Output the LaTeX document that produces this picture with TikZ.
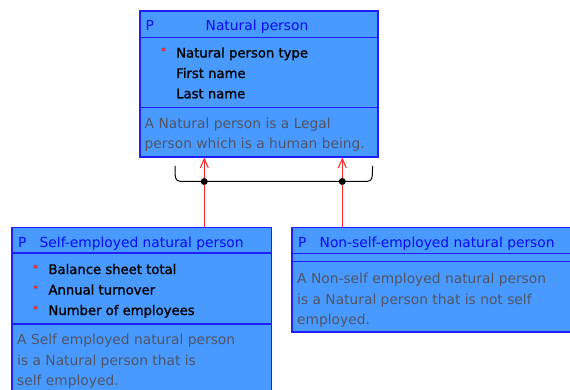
\documentclass[tikz,border=0pt]{standalone}
\usepackage{fontspec}
\setmainfont{DejaVu Sans}
\newfontface\attrface{DejaVu Sans}[FakeBold=1.2]
\newfontface\markface{DejaVu Sans}[FakeBold=2]
\usetikzlibrary{arrows.meta}
\definecolor{entfill}{RGB}{72,154,255}
\definecolor{entline}{RGB}{30,30,255}
\definecolor{titleblue}{RGB}{10,10,240}
\definecolor{notegray}{RGB}{80,85,100}
\definecolor{inhred}{RGB}{255,40,40}
\tikzset{
  entity/.style={draw=entline, fill=entfill, line width=1.6pt, rectangle, inner sep=0pt, anchor=north west},
  sep/.style={draw=entline, line width=1.6pt},
  ptag/.style={anchor=base west, inner sep=0pt, text=titleblue, font=\fontsize{13.8}{16}\selectfont},
  title/.style={anchor=base west, inner sep=0pt, text=titleblue, font=\fontsize{13.8}{16}\selectfont},
  attr/.style={anchor=base west, inner sep=0pt, text=black, font=\attrface\fontsize{13.2}{16}\selectfont},
  mand/.style={anchor=base west, inner sep=0pt, text=inhred, font=\markface\fontsize{9.5}{10}\selectfont},
  note/.style={anchor=base west, inner sep=0pt, text=notegray, font=\fontsize{13.8}{16}\selectfont},
  inherit/.style={draw=inhred, line width=1pt, -{Straight Barb[length=9pt,width=8pt,line width=1pt]}},
  brace/.style={draw=black, line width=1pt},
  joint/.style={circle, fill=black, inner sep=0pt, minimum size=7pt},
}
\begin{document}
\begin{tikzpicture}[x=1pt, y=-1pt]
\useasboundingbox (0,0) rectangle (570,390);
\clip (0,0) rectangle (570,390);

% Natural person
\node[entity, minimum width=238pt, minimum height=145.5pt] (np) at (139,10.5) {};
\draw[sep] (139,37.5) -- (377,37.5);
\draw[sep] (139,107.5) -- (377,107.5);
\node[ptag] (npP) at (145.5,30.5) {P};
\node[title, anchor=base] (npT) at (257,30.5) {Natural person};
\node[mand] (npM1) at (161,54.5) {*};
\node[attr] (npA1) at (176,57.5) {Natural person type};
\node[attr] (npA2) at (176,78) {First name};
\node[attr] (npA3) at (176,98.3) {Last name};
\node[note] (npN1) at (144.5,128.3) {A Natural person is a Legal};
\node[note] (npN2) at (144.5,149) {person which is a human being.};

% Self-employed natural person
\node[entity, minimum width=259.7pt, minimum height=180pt] (se) at (11,226.7) {};
\draw[sep] (11,253) -- (270.7,253);
\draw[sep] (11,324) -- (270.7,324);
\node[ptag] (seP) at (18,247.3) {P};
\node[title] (seT) at (39.5,247.3) {Self-employed natural person};
\node[mand] (seM1) at (33,271.5) {*};
\node[mand] (seM2) at (33,292) {*};
\node[mand] (seM3) at (33,312.5) {*};
\node[attr] (seA1) at (48.3,274) {Balance sheet total};
\node[attr] (seA2) at (48.3,294.5) {Annual turnover};
\node[attr] (seA3) at (48.3,315) {Number of employees};
\node[note] (seN1) at (17,344.3) {A Self employed natural person};
\node[note] (seN2) at (17,365) {is a Natural person that is};
\node[note] (seN3) at (17,385.7) {self employed.};

% Non-self-employed natural person
\node[entity, minimum width=278.5pt, minimum height=104.3pt] (ns) at (291,226.7) {};
\draw[sep] (291,253.3) -- (569.5,253.3);
\draw[sep] (291,261.3) -- (569.5,261.3);
\node[ptag] (nsP) at (298,247.3) {P};
\node[title] (nsT) at (319.5,247.3) {Non-self-employed natural person};
\node[note] (nsN1) at (297,283.3) {A Non-self employed natural person};
\node[note] (nsN2) at (297,304) {is a Natural person that is not self};
\node[note] (nsN3) at (297,324.5) {employed.};

% Inheritance joints and bracket
\coordinate (jl) at (204.3,181.5);
\coordinate (jr) at (342.3,181.5);
\coordinate (bl) at (175,166);
\coordinate (br) at (372.5,166);
\draw[brace] (bl) .. controls (175,181.5) .. (187,181.5) -- (360.5,181.5) .. controls (372.5,181.5) .. (br);
\draw[inherit] (se.north -| jl) -- (np.south -| jl);
\draw[inherit] (ns.north -| jr) -- (np.south -| jr);
\node[joint] (djl) at (jl) {};
\node[joint] (djr) at (jr) {};
\end{tikzpicture}
\end{document}
